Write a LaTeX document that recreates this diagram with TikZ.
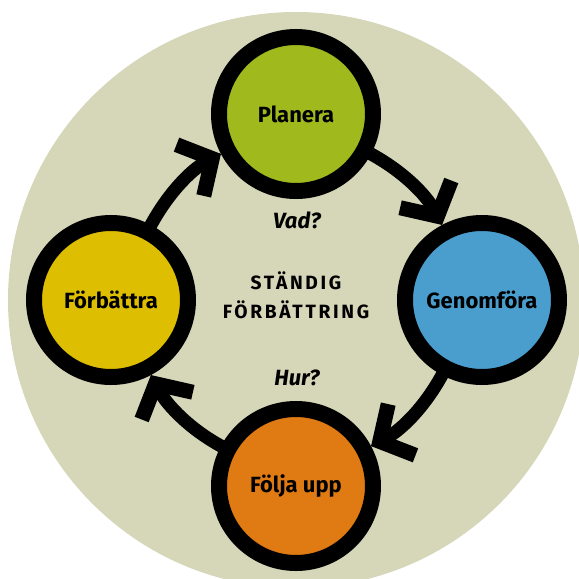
\documentclass[tikz,border=0pt]{standalone}
\usepackage{fontspec}
\setmainfont{Fira Sans}
\newfontfamily\spaced{Fira Sans}[LetterSpace=14]
\usetikzlibrary{arrows.meta,backgrounds}
\definecolor{bakgrund}{HTML}{D6D6B9}
\definecolor{grongul}{HTML}{A0BA1E}
\definecolor{havsbla}{HTML}{4A9ECE}
\definecolor{brandgul}{HTML}{E07A12}
\definecolor{senap}{HTML}{DDBE00}
\tikzset{
  % faser
  fas/.style={circle,draw=black,line width=8pt,inner sep=0pt,minimum size=77pt,
              font=\bfseries\fontsize{11}{13}\selectfont},
  fraga/.style={font=\bfseries\itshape\fontsize{11}{13}\selectfont,inner sep=1pt},
  mitt/.style={align=center,font=\spaced\bfseries\fontsize{9.6}{14.5}\selectfont},
  % pilar
  pil/.style={draw=black,line width=6.5pt,shorten <=-3pt,looseness=0.87,
              -{Straight Barb[length=12.5pt,width=29pt,line width=1pt 1]}},
}
\begin{document}
\begin{tikzpicture}[x=0.5pt,y=0.5pt]
  \useasboundingbox (-296,-279) rectangle (283,300);
  \node[fas,fill=grongul] (plan) at (0,186) {Planera};
  \node[fas,fill=havsbla] (genom) at (186,0) {Genomföra};
  \node[fas,fill=brandgul] (folj) at (0,-186) {Följa upp};
  \node[fas,fill=senap] (forb) at (-185,0) {Förbättra};
  \node[fraga] (vad) at (1,80) {Vad?};
  \node[fraga] (hur) at (1,-78) {Hur?};
  \node[mitt] (cirkel) at (0,5) {STÄNDIG\\FÖRBÄTTRING};
  \begin{scope}[on background layer]
  \clip (-296,-279) rectangle (283,300);
  \fill[bakgrund] (0,0) circle[radius=144pt];
  \draw[pil] (forb.62) to[out=63,in=208] (plan.208);
  \draw[pil] (plan.-28) to[out=-27,in=118] (genom.118);
  \draw[pil] (genom.242) to[out=243,in=28] (folj.28);
  \draw[pil] (folj.152) to[out=153,in=298] (forb.298);
  \end{scope}
\end{tikzpicture}
\end{document}
